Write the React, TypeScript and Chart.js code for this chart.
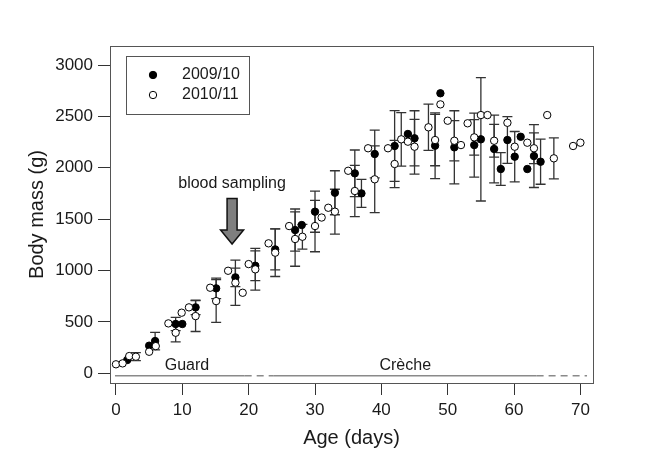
import React, { useEffect, useRef } from 'react';
import { Chart, registerables } from 'chart.js';

Chart.register(...registerables);

const FONT = '"Liberation Sans", Arial, Helvetica, sans-serif';
const TEXT = '#1a1a1a';

// ---- data (age in days, body mass in g, error = SD; 0 = no bar) ----
const ages0910 = [1.7, 5, 5.9, 9, 10, 12, 15.1, 18, 21, 24, 27, 28, 30, 33, 36, 37, 39, 42, 44, 45, 48.1, 48.9, 51, 54, 55, 57, 58, 59, 60.1, 61, 62, 63, 64];
const mass0910 = [130, 269, 314, 480, 480, 642, 827, 934, 1047, 1206, 1394, 1443, 1573, 1757, 1946, 1751, 2134, 2212, 2329, 2287, 2215, 2725, 2199, 2221, 2277, 2183, 1988, 2270, 2108, 2302, 1988, 2114, 2059];
const sd0910 = [0, 0, 85, 65, 0, 70, 100, 90, 145, 200, 205, 0, 200, 214, 227, 136, 233, 345, 0, 268, 320, 0, 356, 311, 600, 329, 160, 227, 245, 0, 0, 306, 219];

const ages1011 = [0, 1, 2, 3, 5, 6, 7.9, 9, 9.9, 11, 12, 14.2, 15.1, 16.9, 18, 19.1, 20, 21, 23, 24, 26.1, 27, 28.1, 30, 31, 32, 33, 35, 36, 38, 39, 41, 42, 43, 44, 45, 47.1, 48.1, 48.9, 50, 51, 52, 53, 54, 55, 56, 57, 59, 60.1, 62, 63, 65, 66, 68.9, 70];
const mass1011 = [88, 97, 168, 162, 210, 265, 486, 395, 590, 642, 557, 833, 703, 998, 882, 784, 1063, 1012, 1265, 1174, 1433, 1307, 1329, 1433, 1516, 1611, 1573, 1971, 1774, 2190, 1888, 2190, 2037, 2277, 2254, 2205, 2394, 2270, 2617, 2458, 2263, 2221, 2433, 2296, 2513, 2513, 2263, 2438, 2205, 2244, 2190, 2513, 2092, 2212, 2244];
const sd1011 = [0, 0, 0, 39, 0, 0, 0, 88, 0, 0, 150, 0, 208, 0, 220, 0, 0, 203, 0, 232, 0, 265, 120, 250, 0, 0, 218, 0, 250, 0, 325, 0, 230, 260, 0, 266, 225, 250, 0, 0, 195, 0, 0, 172, 0, 0, 160, 0, 0, 0, 150, 0, 200, 0, 0];

const seriesLabels = ['2009/10', '2010/11'];
const xTickValues = [0, 10, 20, 30, 40, 50, 60, 70];
const yTickValues = [0, 500, 1000, 1500, 2000, 2500, 3000];

// phase bar along the bottom
const phaseLineMass = -23;
const phaseLabelMass = 71;
const phaseLabels = ['Guard', 'Crèche'];
const phaseLabelAges = [10.7, 43.6];
const phaseStarts = [-0.15, 19.4, 23.7, 63.4];
const phaseEnds = [19.4, 23.7, 63.4, 71];
const phaseDashed = [false, true, false, true];

// blood sampling annotation
const samplingLabel = 'blood sampling';
const samplingAge = 17.5;
const samplingLabelMass = 1842;
const arrowTopMass = 1700;
const arrowHeadMass = 1395;
const arrowTipMass = 1258;

const boxPlugin = {
  id: 'box',
  beforeDatasetsDraw(chart: any) {
    const { ctx, chartArea: a } = chart;
    ctx.save();
    ctx.strokeStyle = '#555';
    ctx.lineWidth = 1;
    ctx.strokeRect(Math.round(a.left) + 0.5, Math.round(a.top) + 0.5, Math.round(a.right - a.left), Math.round(a.bottom - a.top));
    ctx.restore();
  },
};

const errorBarPlugin = {
  id: 'errorBars',
  beforeDatasetsDraw(chart: any) {
    const { ctx, scales } = chart;
    const xs = scales.x;
    const ys = scales.y;
    ctx.save();
    ctx.strokeStyle = '#333';
    ctx.lineWidth = 1.3;
    const cap = 5;
    const draw = (ages: number[], mass: number[], sd: number[]) => {
      for (let i = 0; i < ages.length; i++) {
        if (!sd[i]) continue;
        const px = xs.getPixelForValue(ages[i]);
        const top = ys.getPixelForValue(mass[i] + sd[i]);
        const bot = ys.getPixelForValue(mass[i] - sd[i]);
        ctx.beginPath();
        ctx.moveTo(px, top);
        ctx.lineTo(px, bot);
        ctx.moveTo(px - cap, top);
        ctx.lineTo(px + cap, top);
        ctx.moveTo(px - cap, bot);
        ctx.lineTo(px + cap, bot);
        ctx.stroke();
      }
    };
    draw(ages0910, mass0910, sd0910);
    draw(ages1011, mass1011, sd1011);
    ctx.restore();
  },
};

const annotationPlugin = {
  id: 'annotations',
  afterDatasetsDraw(chart: any) {
    const { ctx, scales } = chart;
    const xs = scales.x;
    const ys = scales.y;
    ctx.save();
    // phase line
    ctx.strokeStyle = '#8a8a8a';
    ctx.lineWidth = 1.5;
    const ly = ys.getPixelForValue(phaseLineMass);
    for (let i = 0; i < phaseStarts.length; i++) {
      ctx.setLineDash(phaseDashed[i] ? [7, 5] : []);
      ctx.beginPath();
      ctx.moveTo(xs.getPixelForValue(phaseStarts[i]), ly);
      ctx.lineTo(xs.getPixelForValue(phaseEnds[i]), ly);
      ctx.stroke();
    }
    ctx.setLineDash([]);
    ctx.fillStyle = TEXT;
    ctx.font = `16px ${FONT}`;
    ctx.textAlign = 'center';
    ctx.textBaseline = 'middle';
    for (let i = 0; i < phaseLabels.length; i++) {
      ctx.fillText(phaseLabels[i], xs.getPixelForValue(phaseLabelAges[i]), ys.getPixelForValue(phaseLabelMass));
    }
    // blood sampling
    const ax = xs.getPixelForValue(samplingAge);
    ctx.fillText(samplingLabel, ax, ys.getPixelForValue(samplingLabelMass));
    const yTop = ys.getPixelForValue(arrowTopMass);
    const yHead = ys.getPixelForValue(arrowHeadMass);
    const yTip = ys.getPixelForValue(arrowTipMass);
    const sw = 5;
    const hw = 11.5;
    ctx.beginPath();
    ctx.moveTo(ax - sw, yTop);
    ctx.lineTo(ax + sw, yTop);
    ctx.lineTo(ax + sw, yHead);
    ctx.lineTo(ax + hw, yHead);
    ctx.lineTo(ax, yTip);
    ctx.lineTo(ax - hw, yHead);
    ctx.lineTo(ax - sw, yHead);
    ctx.closePath();
    ctx.fillStyle = '#7f7f7f';
    ctx.fill();
    ctx.strokeStyle = '#111';
    ctx.lineWidth = 1.5;
    ctx.stroke();

    // legend
    const a = chart.chartArea;
    const lx = a.left + 16;
    const ly0 = a.top + 10;
    ctx.strokeStyle = '#555';
    ctx.lineWidth = 1;
    ctx.strokeRect(Math.round(lx) + 0.5, Math.round(ly0) + 0.5, 123, 58);
    const fills = ['#000', '#fff'];
    ctx.font = `16px ${FONT}`;
    ctx.textAlign = 'left';
    for (let i = 0; i < seriesLabels.length; i++) {
      const cy = ly0 + 19 + i * 20;
      ctx.beginPath();
      ctx.arc(lx + 27, cy, 3.7, 0, Math.PI * 2);
      ctx.fillStyle = fills[i];
      ctx.fill();
      ctx.strokeStyle = '#000';
      ctx.lineWidth = 1;
      ctx.stroke();
      ctx.fillStyle = TEXT;
      ctx.fillText(seriesLabels[i], lx + 56, cy);
    }
    ctx.restore();
  },
};

export default function App() {
  const ref = useRef<HTMLCanvasElement | null>(null);
  useEffect(() => {
    if (!ref.current) return;
    const chart = new Chart(ref.current, {
      type: 'scatter',
      data: {
        datasets: [
          {
            label: seriesLabels[0],
            data: ages0910.map((a, i) => ({ x: a, y: mass0910[i] })),
            backgroundColor: '#000',
            borderColor: '#000',
            borderWidth: 1,
            pointRadius: 3.7,
            order: 2,
          },
          {
            label: seriesLabels[1],
            data: ages1011.map((a, i) => ({ x: a, y: mass1011[i] })),
            backgroundColor: '#fff',
            borderColor: '#000',
            borderWidth: 1,
            pointRadius: 3.7,
            order: 1,
          },
        ],
      },
      options: {
        responsive: false,
        animation: false,
        devicePixelRatio: 1,
        layout: { padding: { left: 0, top: 46, right: 52, bottom: 0 } },
        plugins: { legend: { display: false }, tooltip: { enabled: false } },
        scales: {
          x: {
            type: 'linear',
            min: -0.9,
            max: 71.9,
            afterBuildTicks: (s: any) => {
              s.ticks = xTickValues.map((v) => ({ value: v }));
            },
            afterFit: (s: any) => {
              s.height = 85;
            },
            ticks: {
              autoSkip: false,
              maxRotation: 0,
              padding: 5,
              color: TEXT,
              font: { family: FONT, size: 17 },
              callback: (v: any) => String(v),
            },
            grid: { drawOnChartArea: false, tickLength: 12, color: '#333', lineWidth: 1 },
            border: { display: false },
            title: {
              display: true,
              text: 'Age (days)',
              color: TEXT,
              font: { family: FONT, size: 20 },
              padding: { top: 0, bottom: 18 },
            },
          },
          y: {
            type: 'linear',
            min: -94,
            max: 3185,
            afterBuildTicks: (s: any) => {
              s.ticks = yTickValues.map((v) => ({ value: v }));
            },
            afterFit: (s: any) => {
              s.width = 110;
            },
            ticks: {
              autoSkip: false,
              padding: 5,
              color: TEXT,
              font: { family: FONT, size: 17 },
              callback: (v: any) => String(v),
            },
            grid: { drawOnChartArea: false, tickLength: 12, color: '#333', lineWidth: 1 },
            border: { display: false },
            title: {
              display: true,
              text: 'Body mass (g)',
              color: TEXT,
              font: { family: FONT, size: 20 },
              padding: { top: 25, bottom: 0 },
            },
          },
        },
      },
      plugins: [boxPlugin, errorBarPlugin, annotationPlugin],
    });
    return () => chart.destroy();
  }, []);
  return (
    <div style={{ position: 'absolute', left: 0, top: 0, width: 645, height: 468, background: '#fff' }}>
      <canvas ref={ref} width={645} height={468} />
    </div>
  );
}
